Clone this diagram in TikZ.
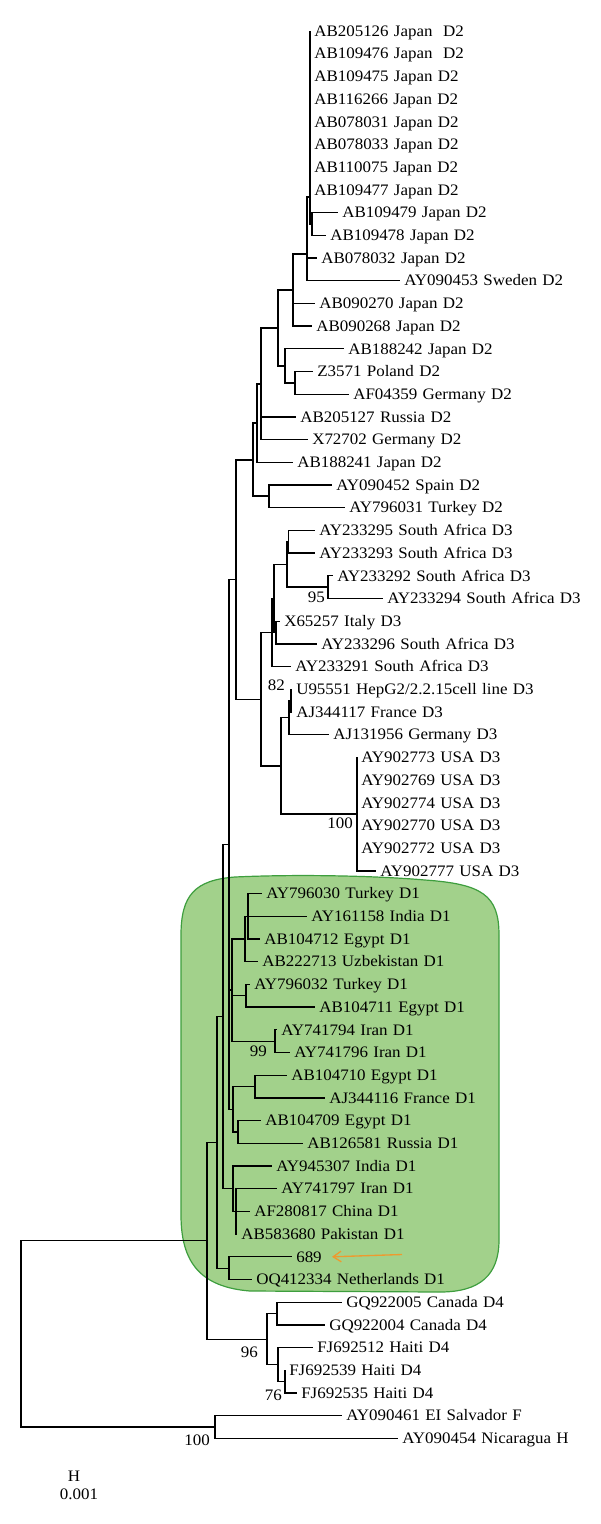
\documentclass[tikz,border=0pt]{standalone}
\usepackage{fontspec}
\setmainfont{Liberation Serif}[FakeStretch=1.06,WordSpace=1.25]
\usetikzlibrary{arrows.meta}
\definecolor{clfill}{HTML}{A2D18B}
\definecolor{cldraw}{HTML}{3E9E3E}
\definecolor{arrorange}{HTML}{EE9A2E}
\newcommand\leafat[4]{\node[leaf] (#1) at (#3,{31+(#2-1)*22.7}) {#4};}
\newcommand\brn[2]{\draw[branch] (#1) |- (#2);}
\begin{document}
\begin{tikzpicture}[x=0.75pt,y=-0.75pt,
  leaf/.style={anchor=west,inner xsep=3pt,inner ysep=0pt,text height=7.9pt,text depth=0pt,font=\fontsize{12pt}{14pt}\selectfont},
  boot/.style={anchor=east,inner sep=0pt,text height=7.9pt,text depth=0pt,font=\fontsize{12pt}{14pt}\selectfont},
  plain/.style={inner sep=0pt,font=\fontsize{12pt}{14pt}\selectfont},
  branch/.style={line width=0.95pt,line join=miter},
  region/.style={fill=clfill,draw=cldraw,line width=0.9pt},
  arrowc/.style={draw=arrorange,line width=1pt,-{Straight Barb[length=6pt,width=8pt]}}]
\useasboundingbox (0,0) rectangle (600,1524);
% green highlight region
\path[region] (181,1215) -- (181,935) .. controls (181,895) and (195,880) .. (235,877)
  .. controls (300,874) and (380,876) .. (425,880)
  .. controls (482,884) and (499,895) .. (499,935)
  -- (499,1240) .. controls (499,1275) and (480,1292) .. (440,1292)
  -- (250,1291) .. controls (200,1287) and (181,1262) .. (181,1215) -- cycle;
% leaves
\leafat{l1}{1}{310}{AB205126 Japan\ \ D2}
\leafat{l2}{2}{310}{AB109476 Japan\ \ D2}
\leafat{l3}{3}{310}{AB109475 Japan D2}
\leafat{l4}{4}{310}{AB116266 Japan D2}
\leafat{l5}{5}{310}{AB078031 Japan D2}
\leafat{l6}{6}{310}{AB078033 Japan D2}
\leafat{l7}{7}{310}{AB110075 Japan D2}
\leafat{l8}{8}{310}{AB109477 Japan D2}
\leafat{l9}{9}{338}{AB109479 Japan D2}
\leafat{l10}{10}{326}{AB109478 Japan D2}
\leafat{l11}{11}{317}{AB078032 Japan D2}
\leafat{l12}{12}{400}{AY090453 Sweden D2}
\leafat{l13}{13}{315}{AB090270 Japan D2}
\leafat{l14}{14}{312}{AB090268 Japan D2}
\leafat{l15}{15}{344}{AB188242 Japan D2}
\leafat{l16}{16}{313}{Z3571 Poland D2}
\leafat{l17}{17}{349}{AF04359 Germany D2}
\leafat{l18}{18}{296}{AB205127 Russia D2}
\leafat{l19}{19}{308}{X72702 Germany D2}
\leafat{l20}{20}{293}{AB188241 Japan D2}
\leafat{l21}{21}{332}{AY090452 Spain D2}
\leafat{l22}{22}{345}{AY796031 Turkey D2}
\leafat{l23}{23}{315}{AY233295 South Africa D3}
\leafat{l24}{24}{315}{AY233293 South Africa D3}
\leafat{l25}{25}{333}{AY233292 South Africa D3}
\leafat{l26}{26}{383}{AY233294 South Africa D3}
\leafat{l27}{27}{280}{X65257 Italy D3}
\leafat{l28}{28}{317}{AY233296 South Africa D3}
\leafat{l29}{29}{291}{AY233291 South Africa D3}
\leafat{l30}{30}{292}{U95551 HepG2/2.2.15cell line D3}
\leafat{l31}{31}{292}{AJ344117 France D3}
\leafat{l32}{32}{329}{AJ131956 Germany D3}
\leafat{l33}{33}{357}{AY902773 USA D3}
\leafat{l34}{34}{357}{AY902769 USA D3}
\leafat{l35}{35}{357}{AY902774 USA D3}
\leafat{l36}{36}{357}{AY902770 USA D3}
\leafat{l37}{37}{357}{AY902772 USA D3}
\leafat{l38}{38}{376}{AY902777 USA D3}
\leafat{l39}{39}{262}{AY796030 Turkey D1}
\leafat{l40}{40}{307}{AY161158 India D1}
\leafat{l41}{41}{260}{AB104712 Egypt D1}
\leafat{l42}{42}{258}{AB222713 Uzbekistan D1}
\leafat{l43}{43}{250}{AY796032 Turkey D1}
\leafat{l44}{44}{315}{AB104711 Egypt D1}
\leafat{l45}{45}{277}{AY741794 Iran D1}
\leafat{l46}{46}{290}{AY741796 Iran D1}
\leafat{l47}{47}{287}{AB104710 Egypt D1}
\leafat{l48}{48}{325}{AJ344116 France D1}
\leafat{l49}{49}{261}{AB104709 Egypt D1}
\leafat{l50}{50}{303}{AB126581 Russia D1}
\leafat{l51}{51}{272}{AY945307 India D1}
\leafat{l52}{52}{277}{AY741797 Iran D1}
\leafat{l53}{53}{250}{AF280817 China D1}
\leafat{l54}{54}{237}{AB583680 Pakistan D1}
\leafat{l55}{55}{292}{689}
\leafat{l56}{56}{252}{OQ412334 Netherlands D1}
\leafat{l57}{57}{342}{GQ922005 Canada D4}
\leafat{l58}{58}{325}{GQ922004 Canada D4}
\leafat{l59}{59}{313}{FJ692512 Haiti D4}
\leafat{l60}{60}{285}{FJ692539 Haiti D4}
\leafat{l61}{61}{297}{FJ692535 Haiti D4}
\leafat{l62}{62}{342}{AY090461 EI Salvador F}
\leafat{l63}{63}{398}{AY090454 Nicaragua H}
% internal nodes
\coordinate (C) at (312,224);
\coordinate (B) at (310,197);
\coordinate (A) at (307,254);
\coordinate (D) at (293,290);
\coordinate (G) at (295,383);
\coordinate (F) at (285,366);
\coordinate (E) at (278,328);
\coordinate (H) at (261,384);
\coordinate (I) at (257,423);
\coordinate (K) at (269,496);
\coordinate (J) at (253,460);
\coordinate (L) at (236,579.5);
\coordinate (Q1) at (288.5,542);
\coordinate (R) at (328,587);
\coordinate (Q) at (287,564.5);
\coordinate (T) at (276,632.5);
\coordinate (S) at (274,598.5);
\coordinate (O) at (272,632.5);
\coordinate (W) at (291,700.7);
\coordinate (U) at (289,717.7);
\coordinate (V) at (357,814);
\coordinate (P) at (281,766);
\coordinate (M) at (261,699.3);
\coordinate (Z1) at (248,916.3);
\coordinate (Z) at (245,939);
\coordinate (AA) at (246,995.8);
\coordinate (AB) at (275,1041.2);
\coordinate (Y) at (232,990);
\coordinate (K2a) at (255,1086.6);
\coordinate (K2b) at (238,1132);
\coordinate (K2) at (233,1109.3);
\coordinate (N) at (229,844.4);
\coordinate (X4b) at (236,1211.4);
\coordinate (X4) at (233,1188.7);
\coordinate (X3) at (223,1016.6);
\coordinate (P2) at (229,1268.2);
\coordinate (X2) at (217,1142.4);
\coordinate (Can) at (277,1313.6);
\coordinate (Hsub) at (285,1381.7);
\coordinate (Hai) at (278,1364.7);
\coordinate (D4) at (267,1339.2);
\coordinate (R1) at (207,1240.8);
\coordinate (FH) at (215,1427);
\coordinate (root) at (21,1333.9);
% branches D2
\foreach \k in {1,...,8} {\brn{B}{l\k.west}}
\brn{B}{C} \brn{C}{l9.west} \brn{C}{l10.west}
\brn{A}{B} \brn{A}{l11.west} \brn{A}{l12.west}
\brn{D}{A} \brn{D}{l13.west} \brn{D}{l14.west}
\brn{G}{l16.west} \brn{G}{l17.west}
\brn{F}{l15.west} \brn{F}{G}
\brn{E}{D} \brn{E}{F}
\brn{H}{E} \brn{H}{l18.west} \brn{H}{l19.west}
\brn{I}{H} \brn{I}{l20.west}
\brn{K}{l21.west} \brn{K}{l22.west}
\brn{J}{I} \brn{J}{K}
\brn{L}{J} \brn{L}{M}
% D3
\brn{Q1}{l23.west} \brn{Q1}{l24.west}
\brn{R}{l25.west} \brn{R}{l26.west}
\brn{Q}{Q1} \brn{Q}{R}
\brn{T}{l27.west} \brn{T}{l28.west}
\brn{S}{Q} \brn{S}{T}
\brn{O}{S} \brn{O}{l29.west}
\brn{W}{l30.west} \brn{W}{l31.west}
\brn{U}{W} \brn{U}{l32.west}
\foreach \k in {33,...,38} {\brn{V}{l\k.west}}
\brn{P}{U} \brn{P}{V}
\brn{M}{O} \brn{M}{P}
% D1
\brn{Z1}{l39.west} \brn{Z1}{l40.west} \brn{Z1}{l41.west}
\brn{Z}{Z1} \brn{Z}{l42.west}
\brn{AA}{l43.west} \brn{AA}{l44.west}
\brn{AB}{l45.west} \brn{AB}{l46.west}
\brn{Y}{Z} \brn{Y}{AA} \brn{Y}{AB}
\brn{K2a}{l47.west} \brn{K2a}{l48.west}
\brn{K2b}{l49.west} \brn{K2b}{l50.west}
\brn{K2}{K2a} \brn{K2}{K2b}
\brn{N}{L} \brn{N}{Y} \brn{N}{K2}
\brn{X4b}{l52.west} \brn{X4b}{l53.west} \brn{X4b}{l54.west}
\brn{X4}{l51.west} \brn{X4}{X4b}
\brn{X3}{N} \brn{X3}{X4}
\brn{P2}{l55.west} \brn{P2}{l56.west}
\brn{X2}{X3} \brn{X2}{P2}
% D4
\brn{Can}{l57.west} \brn{Can}{l58.west}
\brn{Hsub}{l60.west} \brn{Hsub}{l61.west}
\brn{Hai}{l59.west} \brn{Hai}{Hsub}
\brn{D4}{Can} \brn{D4}{Hai}
\brn{R1}{X2} \brn{R1}{D4}
\brn{FH}{l62.west} \brn{FH}{l63.west}
\brn{root}{R1} \brn{root}{FH}
% bootstrap values
\node[boot] (b95) at (325,597) {95};
\node[boot] (b82) at (285,685.5) {82};
\node[boot] (b100a) at (353,823.5) {100};
\node[boot] (b99) at (267,1051.5) {99};
\node[boot] (b96) at (258,1352) {96};
\node[boot] (b76) at (282,1395) {76};
\node[boot] (b100b) at (210,1440) {100};
% arrow to 689
\coordinate (atail) at (402,1254.5);
\draw[arrowc] (atail) -- ([xshift=4.5pt]l55.east);
% scale
\node[plain] (scH) at (74,1476) {H};
\node[plain] (scv) at (79,1494) {0.001};
\end{tikzpicture}
\end{document}
